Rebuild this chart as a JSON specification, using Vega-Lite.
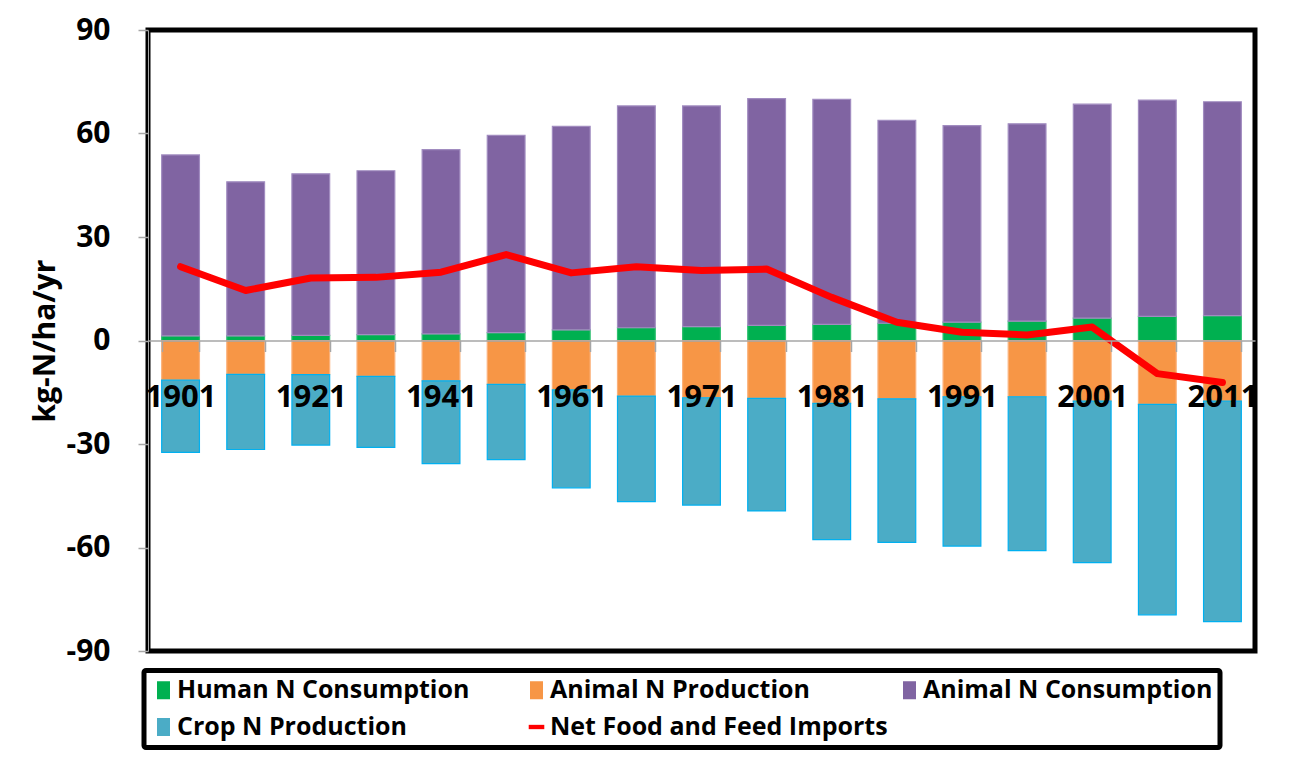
{
  "$schema": "https://vega.github.io/schema/vega-lite/v6.json",
  "autosize": "none",
  "width": 1107,
  "height": 621,
  "padding": {"left": 148, "top": 30, "right": 35, "bottom": 107},
  "background": "white",
  "config": {
    "font": "Open Sans",
    "view": {"stroke": "black", "strokeWidth": 5}
  },
  "data": {
    "values": [
      {"year": "1901", "series": "Human N Consumption", "k": 1, "value": 1.35},
      {"year": "1911", "series": "Human N Consumption", "k": 1, "value": 1.35},
      {"year": "1921", "series": "Human N Consumption", "k": 1, "value": 1.5},
      {"year": "1931", "series": "Human N Consumption", "k": 1, "value": 1.7},
      {"year": "1941", "series": "Human N Consumption", "k": 1, "value": 1.9},
      {"year": "1951", "series": "Human N Consumption", "k": 1, "value": 2.3},
      {"year": "1961", "series": "Human N Consumption", "k": 1, "value": 3.1},
      {"year": "1966", "series": "Human N Consumption", "k": 1, "value": 3.7},
      {"year": "1971", "series": "Human N Consumption", "k": 1, "value": 4.0},
      {"year": "1976", "series": "Human N Consumption", "k": 1, "value": 4.4},
      {"year": "1981", "series": "Human N Consumption", "k": 1, "value": 4.7},
      {"year": "1986", "series": "Human N Consumption", "k": 1, "value": 5.0},
      {"year": "1991", "series": "Human N Consumption", "k": 1, "value": 5.3},
      {"year": "1996", "series": "Human N Consumption", "k": 1, "value": 5.6},
      {"year": "2001", "series": "Human N Consumption", "k": 1, "value": 6.5},
      {"year": "2006", "series": "Human N Consumption", "k": 1, "value": 7.0},
      {"year": "2011", "series": "Human N Consumption", "k": 1, "value": 7.2},

      {"year": "1901", "series": "Animal  N Production", "k": 2, "value": -11.5},
      {"year": "1911", "series": "Animal  N Production", "k": 2, "value": -9.8},
      {"year": "1921", "series": "Animal  N Production", "k": 2, "value": -9.9},
      {"year": "1931", "series": "Animal  N Production", "k": 2, "value": -10.4},
      {"year": "1941", "series": "Animal  N Production", "k": 2, "value": -11.7},
      {"year": "1951", "series": "Animal  N Production", "k": 2, "value": -12.7},
      {"year": "1961", "series": "Animal  N Production", "k": 2, "value": -14.3},
      {"year": "1966", "series": "Animal  N Production", "k": 2, "value": -16.1},
      {"year": "1971", "series": "Animal  N Production", "k": 2, "value": -16.6},
      {"year": "1976", "series": "Animal  N Production", "k": 2, "value": -16.8},
      {"year": "1981", "series": "Animal  N Production", "k": 2, "value": -18.2},
      {"year": "1986", "series": "Animal  N Production", "k": 2, "value": -16.9},
      {"year": "1991", "series": "Animal  N Production", "k": 2, "value": -16.3},
      {"year": "1996", "series": "Animal  N Production", "k": 2, "value": -16.3},
      {"year": "2001", "series": "Animal  N Production", "k": 2, "value": -17.6},
      {"year": "2006", "series": "Animal  N Production", "k": 2, "value": -18.5},
      {"year": "2011", "series": "Animal  N Production", "k": 2, "value": -17.6},

      {"year": "1901", "series": "Animal N Consumption", "k": 3, "value": 52.45},
      {"year": "1911", "series": "Animal N Consumption", "k": 3, "value": 44.65},
      {"year": "1921", "series": "Animal N Consumption", "k": 3, "value": 46.8},
      {"year": "1931", "series": "Animal N Consumption", "k": 3, "value": 47.5},
      {"year": "1941", "series": "Animal N Consumption", "k": 3, "value": 53.4},
      {"year": "1951", "series": "Animal N Consumption", "k": 3, "value": 57.2},
      {"year": "1961", "series": "Animal N Consumption", "k": 3, "value": 59.0},
      {"year": "1966", "series": "Animal N Consumption", "k": 3, "value": 64.3},
      {"year": "1971", "series": "Animal N Consumption", "k": 3, "value": 64.0},
      {"year": "1976", "series": "Animal N Consumption", "k": 3, "value": 65.7},
      {"year": "1981", "series": "Animal N Consumption", "k": 3, "value": 65.2},
      {"year": "1986", "series": "Animal N Consumption", "k": 3, "value": 58.8},
      {"year": "1991", "series": "Animal N Consumption", "k": 3, "value": 57.0},
      {"year": "1996", "series": "Animal N Consumption", "k": 3, "value": 57.2},
      {"year": "2001", "series": "Animal N Consumption", "k": 3, "value": 62.0},
      {"year": "2006", "series": "Animal N Consumption", "k": 3, "value": 62.7},
      {"year": "2011", "series": "Animal N Consumption", "k": 3, "value": 62.0},

      {"year": "1901", "series": "Crop N Production", "k": 4, "value": -20.9},
      {"year": "1911", "series": "Crop N Production", "k": 4, "value": -21.8},
      {"year": "1921", "series": "Crop N Production", "k": 4, "value": -20.4},
      {"year": "1931", "series": "Crop N Production", "k": 4, "value": -20.6},
      {"year": "1941", "series": "Crop N Production", "k": 4, "value": -24.0},
      {"year": "1951", "series": "Crop N Production", "k": 4, "value": -21.8},
      {"year": "1961", "series": "Crop N Production", "k": 4, "value": -28.4},
      {"year": "1966", "series": "Crop N Production", "k": 4, "value": -30.6},
      {"year": "1971", "series": "Crop N Production", "k": 4, "value": -31.1},
      {"year": "1976", "series": "Crop N Production", "k": 4, "value": -32.6},
      {"year": "1981", "series": "Crop N Production", "k": 4, "value": -39.5},
      {"year": "1986", "series": "Crop N Production", "k": 4, "value": -41.6},
      {"year": "1991", "series": "Crop N Production", "k": 4, "value": -43.3},
      {"year": "1996", "series": "Crop N Production", "k": 4, "value": -44.6},
      {"year": "2001", "series": "Crop N Production", "k": 4, "value": -46.8},
      {"year": "2006", "series": "Crop N Production", "k": 4, "value": -61.0},
      {"year": "2011", "series": "Crop N Production", "k": 4, "value": -63.9},

      {"year": "1901", "series": "Net Food and Feed Imports", "k": 5, "value": 21.4},
      {"year": "1911", "series": "Net Food and Feed Imports", "k": 5, "value": 14.5},
      {"year": "1921", "series": "Net Food and Feed Imports", "k": 5, "value": 18.1},
      {"year": "1931", "series": "Net Food and Feed Imports", "k": 5, "value": 18.3},
      {"year": "1941", "series": "Net Food and Feed Imports", "k": 5, "value": 19.8},
      {"year": "1951", "series": "Net Food and Feed Imports", "k": 5, "value": 24.9},
      {"year": "1961", "series": "Net Food and Feed Imports", "k": 5, "value": 19.6},
      {"year": "1966", "series": "Net Food and Feed Imports", "k": 5, "value": 21.4},
      {"year": "1971", "series": "Net Food and Feed Imports", "k": 5, "value": 20.3},
      {"year": "1976", "series": "Net Food and Feed Imports", "k": 5, "value": 20.7},
      {"year": "1981", "series": "Net Food and Feed Imports", "k": 5, "value": 12.5},
      {"year": "1986", "series": "Net Food and Feed Imports", "k": 5, "value": 5.3},
      {"year": "1991", "series": "Net Food and Feed Imports", "k": 5, "value": 2.4},
      {"year": "1996", "series": "Net Food and Feed Imports", "k": 5, "value": 1.6},
      {"year": "2001", "series": "Net Food and Feed Imports", "k": 5, "value": 3.9},
      {"year": "2006", "series": "Net Food and Feed Imports", "k": 5, "value": -9.6},
      {"year": "2011", "series": "Net Food and Feed Imports", "k": 5, "value": -12.2}
    ]
  },
  "encoding": {
    "x": {
      "field": "year",
      "type": "nominal",
      "sort": null,
      "scale": {"paddingInner": 0.42, "paddingOuter": 0.21},
      "axis": {
        "title": null,
        "offset": -310.5,
        "zindex": 1,
        "domainColor": "#a6a6a6",
        "domainWidth": 1.5,
        "tickColor": "#a6a6a6",
        "tickWidth": 1.5,
        "tickSize": 11,
        "tickBand": "extent",
        "labelAngle": 0,
        "labelFont": "Open Sans",
        "labelFontSize": 31,
        "labelFontWeight": "bold",
        "labelColor": "black",
        "labelPadding": 31,
        "labelExpr": "indexof(['1901','1921','1941','1961','1971','1981','1991','2001','2011'], datum.label) >= 0 ? datum.label : ''"
      }
    },
    "y": {
      "field": "value",
      "type": "quantitative",
      "scale": {"domain": [-90, 90], "nice": false},
      "axis": {
        "title": "kg-N/ha/yr",
        "titleFont": "Open Sans",
        "titleFontSize": 30,
        "titleFontWeight": "bold",
        "titleColor": "black",
        "titlePadding": 6,
        "values": [-90, -60, -30, 0, 30, 60, 90],
        "labelExpr": "'' + datum.value",
        "grid": false,
        "domainColor": "#a6a6a6",
        "tickColor": "#a6a6a6",
        "tickWidth": 1.5,
        "tickSize": 10,
        "labelFont": "Open Sans",
        "labelFontSize": 30,
        "labelFontWeight": "bold",
        "labelColor": "black",
        "labelPadding": 28
      }
    }
  },
  "layer": [
    {
      "transform": [{"filter": "datum.series !== 'Net Food and Feed Imports'"}],
      "mark": {"type": "bar", "strokeWidth": 1.2},
      "encoding": {
        "color": {
          "field": "series",
          "type": "nominal",
          "scale": {
            "domain": ["Human N Consumption", "Animal  N Production", "Animal N Consumption", "Crop N Production", "Net Food and Feed Imports"],
            "range": ["#00B050", "#F79646", "#8064A2", "#4BACC6", "#FF0000"]
          },
          "legend": {
            "title": null,
            "orient": "none",
            "direction": "horizontal",
            "legendX": -4,
            "legendY": 640.5,
            "columns": 3,
            "gridAlign": "all",
            "columnPadding": 9,
            "rowPadding": 11,
            "padding": 7,
            "strokeColor": "black",
            "cornerRadius": 2,
            "symbolSize": 300,
            "symbolStrokeWidth": 0,
            "symbolOpacity": 1,
            "labelFont": "Open Sans",
            "labelFontSize": 25,
            "labelFontWeight": "bold",
            "labelColor": "black",
            "labelOffset": 1,
            "labelLimit": 500,
            "encode": {
              "legend": {"update": {"strokeWidth": {"value": 5}}},
              "symbols": {
                "update": {
                  "shape": {"signal": "datum.value === 'Net Food and Feed Imports' ? 'M-0.9,-0.25H0.9V0.25H-0.9Z' : 'M-0.75,-1.04H0.75V1.04H-0.75Z'"}
                }
              }
            }
          }
        },
        "stroke": {
          "field": "series",
          "type": "nominal",
          "scale": {
            "domain": ["Human N Consumption", "Animal  N Production", "Animal N Consumption", "Crop N Production"],
            "range": ["#2fc070", "#fbb17a", "#a18cc0", "#00B0F0"]
          },
          "legend": null
        },
        "order": {"field": "k", "type": "quantitative"}
      }
    },
    {
      "transform": [{"filter": "datum.series === 'Net Food and Feed Imports'"}],
      "mark": {"type": "line", "strokeWidth": 7, "strokeCap": "round", "strokeJoin": "round"},
      "encoding": {
        "color": {"field": "series", "type": "nominal"}
      }
    }
  ]
}
